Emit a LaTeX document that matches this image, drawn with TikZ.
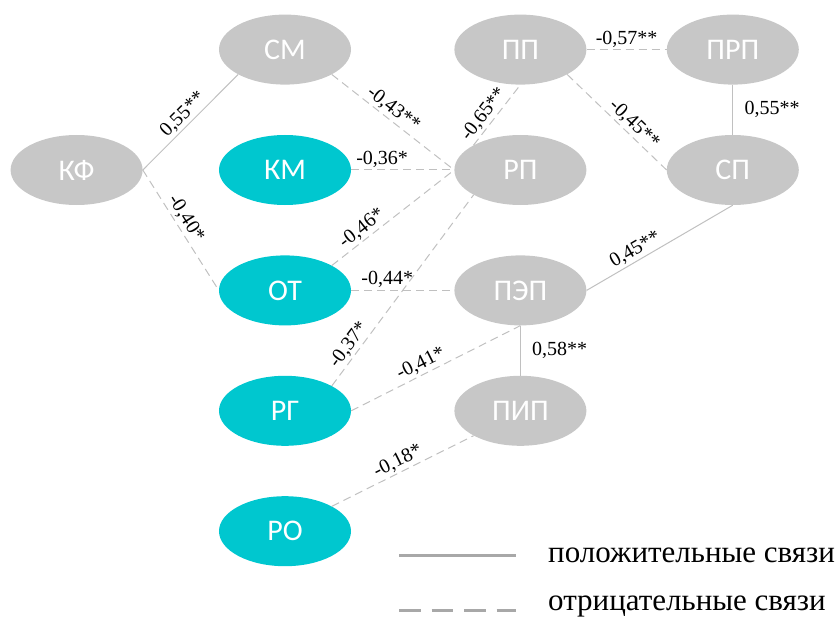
\documentclass[tikz,border=0pt]{standalone}
\usepackage{fontspec}
\setmainfont{Liberation Serif}
\newfontfamily\nodefont{Carlito}
\usepackage{xcolor}
\usepackage{tikz}
\usetikzlibrary{positioning, shapes.geometric}

\definecolor{nodegray}{RGB}{199,199,199}
\definecolor{nodecyan}{RGB}{0,199,207}
\definecolor{linegray}{RGB}{192,192,192}
\definecolor{legendgray}{RGB}{168,168,168}

\begin{document}
\begin{tikzpicture}[
	  x=1pt, y=1pt,
	  font=\fontsize{20}{22}\selectfont,
	  node distance=50pt and 76pt,
	  box/.style={
	    ellipse,
	    minimum width=132pt,
	    minimum height=70pt,
	    inner sep=0pt,
	    fill=nodegray,
	    text=white,
	    font=\nodefont\fontsize{30}{32}\selectfont
	  },
	  cyanbox/.style={box,fill=nodecyan},
	  poslink/.style={draw=linegray,line width=1pt},
	  neglink/.style={poslink,dash pattern=on 8pt off 5pt},
	  coef/.style={sloped,above,inner sep=2pt},
	  legline/.style={draw=legendgray,line width=3pt},
	  legtext/.style={font=\fontsize{31}{33}\selectfont,anchor=base west,inner sep=0pt}
	]
	
	\useasboundingbox (-285,170) rectangle (552,-448);
	
	% Left column
	\node[cyanbox] (km) {КМ};
	\node[box,above=of km] (sm) {СМ};
	\node[cyanbox,below=of km] (ot) {ОТ};
	\node[cyanbox,below=of ot] (rg) {РГ};
	\node[cyanbox,below=of rg] (ro) {РО};
	\node[box,left=of km] (kf) {КФ};
	
	% Right columns
	\node[box,right=of km, xshift=27pt] (rp) {РП};
	\node[box,above=of rp] (pp) {ПП};
	\node[box,below=of rp] (pep) {ПЭП};
	\node[box,below=of pep] (pip) {ПИП};
	\node[box,right=of rp, xshift=4pt] (sp) {СП};
	\node[box,above=of sp] (prp) {ПРП};
	
	% Correlations
	\draw[poslink] (kf.east) -- node[coef]{0,55**} (sm.south west);
	\draw[neglink] (kf.east) -- node[coef, pos=0.45]{-0,40*} (ot.west);
	\draw[neglink] (sm.south east) -- node[coef, pos=0.45]{-0,43**} (rp.west);
	\draw[neglink] (km.east) -- node[coef, pos=0.3]{-0,36*} (rp.west);
	\draw[neglink] (ot.north east) -- node[coef, pos=0.3]{-0,46*} (rp.west);
	\draw[neglink] (ot.east) -- node[coef, pos=0.35]{-0,44*} (pep.west);
	\draw[neglink] (rg.north east) -- node[coef, pos=0.18]{-0,37*} (rp.south west);
	\draw[neglink] (rg.east) -- node[coef, pos=0.44]{-0,41*} (pep.south);
	\draw[neglink] (rp.north west) -- node[coef, pos=0.4]{-0,65**} (pp.south);
	\draw[neglink] (pp.east) -- node[coef]{-0,57**} (prp.west);
	\draw[neglink] (pp.south east) -- node[coef, pos=0.6]{-0,45**} (sp.west);
	\draw[poslink] (prp.south) -- node[right, xshift=8pt]{0,55**} (sp.north);
	\draw[poslink] (pep.east) -- node[coef, pos=0.37]{0,45**} (sp.south);
	\draw[poslink] (pep.south) -- node[right, xshift=8pt]{0,58**} (pip.north);
	\draw[neglink] (ro.north east) -- node[coef, pos=0.5]{-0,18*} (pip.south west);
	
	% Legend
	\coordinate (posA) at (114,-385);
	\coordinate (posB) at (231,-385);
	\coordinate (negA) at (114,-440);
	\coordinate (negB) at (231,-440);
	\draw[legline] (posA) -- (posB);
	\draw[legline, dash pattern=on 21.7pt off 10.8pt] (negA) -- (negB);
	\node[legtext] (postext) at (263,-392) {положительные связи};
	\node[legtext] (negtext) at (263,-440) {отрицательные связи};
	
	\end{tikzpicture}
\end{document}
